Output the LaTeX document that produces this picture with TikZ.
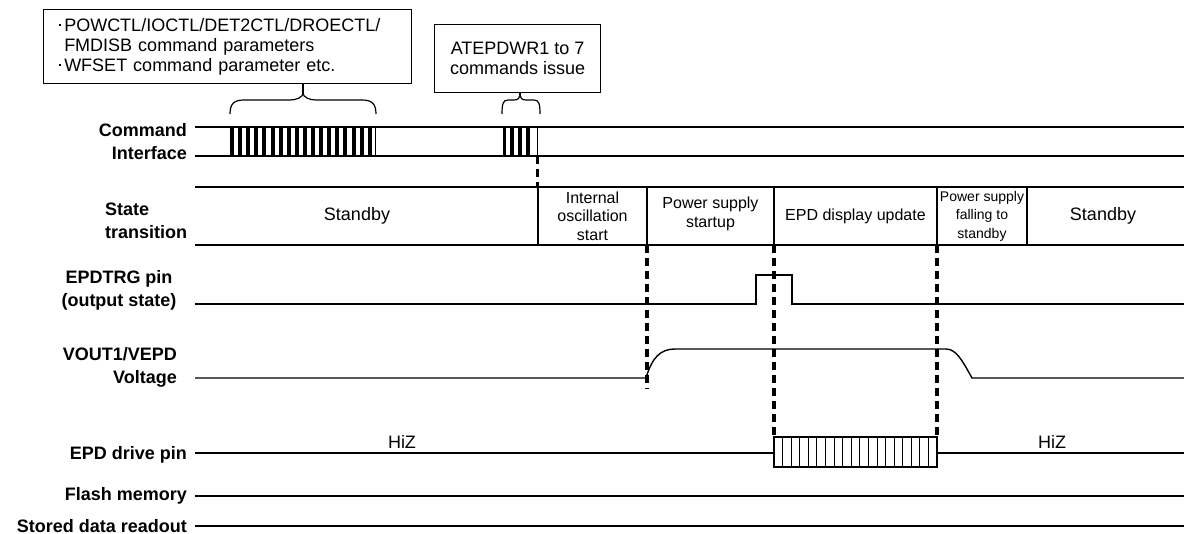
\documentclass[tikz,border=0pt]{standalone}
\usepackage{fontspec}
\setmainfont{Liberation Sans}
\newcommand{\bdot}{\rule[5pt]{2.6pt}{2.6pt}\hspace{3pt}}
\begin{document}
\begin{tikzpicture}[x=1pt,y=-1pt,
  sig/.style={line width=1.4pt},
  guide/.style={line width=3.2pt,dash pattern=on 8pt off 5pt},
  lbl/.style={font=\fontsize{18}{23}\selectfont\bfseries,inner sep=0pt},
  stxt/.style={font=\fontsize{16}{18.5}\selectfont,align=center,inner sep=0pt},
  btxt/.style={font=\fontsize{18}{20}\selectfont,inner sep=0pt},
  brace/.style={line width=1.2pt},
  hatch/.style={line width=0.9pt},
]
\useasboundingbox (0,0) rectangle (1184,534);

% ---- signal labels
\node[lbl,align=right,anchor=east] (lcmd) at (187,141.5) {Command\\Interface};
\node[lbl,align=left,anchor=west] (lst) at (105,220.5) {State\\transition};
\node[lbl,align=center] (ltrg) at (119,290.5) {EPDTRG pin\\(output state)};
\node[lbl,align=right,anchor=east] (lvout) at (177,367.5) {VOUT1/VEPD\\Voltage};
\node[lbl,anchor=east] (ldrv) at (187,455) {EPD drive pin};
\node[lbl,anchor=east] (lfl) at (187,496) {Flash memory};
\node[lbl,anchor=east] (lsd) at (187,526) {Stored data readout};

% ---- top callout boxes
\node[draw,line width=1.3pt,align=left,anchor=north west,text width=338pt,inner xsep=15pt,minimum height=74pt,font=\fontsize{18}{20}\selectfont] (b1) at (43,9)
 {\bdot POWCTL/IOCTL/DET2CTL/DROECTL/\\\phantom{\bdot}FMDISB command parameters\\\bdot WFSET command parameter etc.};
\node[draw,line width=1.3pt,align=center,anchor=north west,minimum width=166pt,minimum height=68pt,font=\fontsize{18}{20}\selectfont] (b2) at (434,24)
 {ATEPDWR1 to 7\\commands issue};

% ---- braces
\coordinate (ap1) at (303,93);
\coordinate (ap2) at (520,95);
\draw[brace] (230,114) .. controls (230,104) and (234,100) .. (244,100) -- (290,100)
  .. controls (297,100) and (303,97) .. (ap1)
  .. controls (303,97) and (309,100) .. (316,100) -- (362,100)
  .. controls (372,100) and (376,104) .. (376,114);
\draw[brace] (ap1) -- (ap1 |- b1.south);
\draw[brace] (502,114) .. controls (502,104) and (503,100) .. (508,100) -- (514,100)
  .. controls (518,100) and (520,98) .. (ap2)
  .. controls (520,98) and (522,100) .. (526,100) -- (534,100)
  .. controls (539,100) and (540,104) .. (540,114);
\draw[brace] (ap2) -- (ap2 |- b2.south);

% ---- command interface
\draw[sig] (195,127) -- (1184,127);
\draw[sig] (195,156) -- (1184,156);
\foreach \i in {0,...,17} \fill (230+8.1*\i,127) rectangle ++(4,29);
\draw[line width=1pt] (375.5,127) -- (375.5,156);
\foreach \i in {0,...,3} \fill (502.5+7.8*\i,127) rectangle ++(3.8,29);
\draw[line width=1.2pt] (537.5,127) -- (537.5,156);

% ---- state transition
\draw[sig] (195,187) -- (1184,187);
\draw[sig] (195,245) -- (1184,245);
\foreach \x in {538,647,774,937,1027} \draw[sig] (\x,187) -- (\x,245);
\node[btxt] (s1) at (357,216) {Standby};
\node[stxt] (s2) at (592.5,216) {Internal\\oscillation\\start};
\node[stxt] (s3) at (710.5,214) {Power supply\\startup};
\node[stxt] (s4) at (855.5,216) {EPD display update};
\node[stxt,font=\fontsize{14}{18.5}\selectfont] (s5) at (982,216) {Power supply\\falling to\\standby};
\node[btxt] (s6) at (1103,216) {Standby};

% ---- guides
\draw[guide] (537.5,156) -- (537.5,187);
\draw[guide] (647,245) -- (647,389);
\draw[guide] (774,245) -- (774,437);
\draw[guide] (937,245) -- (937,437);

% ---- EPDTRG
\draw[sig] (195,304) -- (756,304) -- (756,275) -- (792,275) -- (792,304) -- (1184,304);

% ---- VOUT
\draw[sig] (195,378) -- (646,378) .. controls (652,358) and (660,349) .. (675,349) -- (946,349)
  .. controls (956,349) and (962,360) .. (972,378) -- (1184,378);

% ---- EPD drive pin
\draw[sig] (195,453) -- (774,453);
\draw[sig] (937,453) -- (1184,453);
\draw[sig] (774,437) rectangle (937,467);
\foreach \i in {1,...,18} \draw[hatch] (774+163/19*\i,437) -- ++(0,30);
\node[btxt] (h1) at (402,442) {HiZ};
\node[btxt] (h2) at (1052,442) {HiZ};

% ---- flash memory
\draw[sig] (195,496) -- (1184,496);
\draw[sig] (195,526) -- (1184,526);
\end{tikzpicture}
\end{document}
